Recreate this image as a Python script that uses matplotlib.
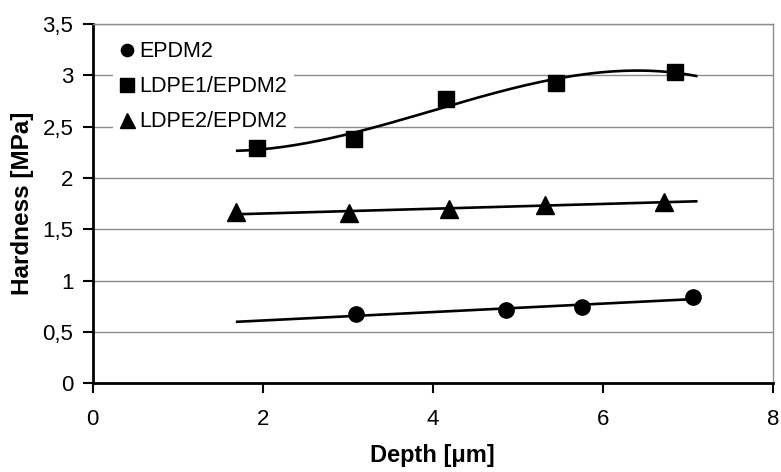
import numpy as np
import matplotlib
matplotlib.use("Agg")
import matplotlib.pyplot as plt
from matplotlib.ticker import FuncFormatter, MultipleLocator

plt.rcParams['font.family'] = ['Liberation Sans', 'DejaVu Sans']

epdm_x = [3.10, 4.86, 5.76, 7.06]
epdm_y = [0.675, 0.712, 0.74, 0.845]

ldpe1_x = [1.93, 3.07, 4.16, 5.45, 6.85]
ldpe1_y = [2.29, 2.385, 2.77, 2.925, 3.035]

ldpe2_x = [1.69, 3.01, 4.19, 5.32, 6.72]
ldpe2_y = [1.665, 1.655, 1.70, 1.735, 1.77]

trend_range = (1.7, 7.1)

fig = plt.figure(figsize=(7.81, 4.72), dpi=100)
ax = fig.add_axes([0.1187, 0.188, 0.8707, 0.761])

xs = np.linspace(trend_range[0], trend_range[1], 200)
# trendlines: linear for the two flat series, cubic for LDPE1
for x, y, deg in [(epdm_x, epdm_y, 1), (ldpe1_x, ldpe1_y, 3), (ldpe2_x, ldpe2_y, 1)]:
    p = np.polyfit(x, y, deg)
    ax.plot(xs, np.polyval(p, xs), color='black', lw=1.9, zorder=3)

ax.plot(epdm_x, epdm_y, 'o', color='black', ms=11, ls='none', label='EPDM2', zorder=4)
ax.plot(ldpe1_x, ldpe1_y, 's', color='black', ms=12, ls='none', label='LDPE1/EPDM2', zorder=4)
ax.plot(ldpe2_x, ldpe2_y, '^', color='black', ms=13.5, ls='none', label='LDPE2/EPDM2', zorder=4)

ax.set_xlim(0, 8)
ax.set_ylim(0, 3.5)
ax.xaxis.set_major_locator(MultipleLocator(2))
ax.yaxis.set_major_locator(MultipleLocator(0.5))

def comma(v, pos):
    s = ('%g' % v).replace('.', ',')
    return s

ax.xaxis.set_major_formatter(FuncFormatter(comma))
ax.yaxis.set_major_formatter(FuncFormatter(comma))
ax.tick_params(axis='both', direction='out', length=7, width=1.5, labelsize=16, color='black')
ax.tick_params(axis='x', pad=11.5)
ax.tick_params(axis='y', pad=7)

ax.grid(axis='y', color='#8c8c8c', lw=1)
ax.set_axisbelow(True)
for s in ['top', 'right']:
    ax.spines[s].set_color('#8c8c8c')
    ax.spines[s].set_linewidth(1)
for s in ['left', 'bottom']:
    ax.spines[s].set_color('black')
    ax.spines[s].set_linewidth(2)

ax.set_xlabel('Depth [μm]', fontsize=17, fontweight='bold', labelpad=10)
ax.set_ylabel('Hardness [MPa]', fontsize=17.5, fontweight='bold', labelpad=6)

leg = ax.legend(loc='upper left', bbox_to_anchor=(0.0146, 1.0), frameon=True, fontsize=15.5,
                handlelength=0.7, handletextpad=0.22, labelspacing=0.65, markerscale=0.8,
                borderaxespad=0.5, borderpad=0.3, fancybox=False)
leg.get_frame().set_edgecolor('none')
leg.get_frame().set_facecolor('white')
leg.get_frame().set_alpha(1)

fig.savefig('out.png', dpi=100)
